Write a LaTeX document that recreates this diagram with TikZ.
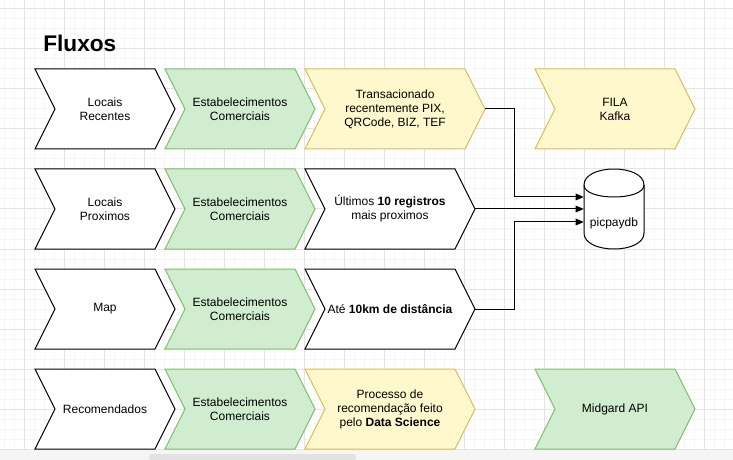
\documentclass[tikz,border=0pt]{standalone}
\usepackage{fontspec}
\setmainfont{Liberation Sans}
\usetikzlibrary{arrows.meta}

\definecolor{greenfill}{HTML}{D1EDD0}
\definecolor{greenline}{HTML}{7DBE6A}
\definecolor{yellowfill}{HTML}{FFF8CC}
\definecolor{yellowline}{HTML}{D9BE55}
\definecolor{gridminor}{HTML}{F6F6F6}
\definecolor{gridmajor}{HTML}{E4E4E4}
\definecolor{stripgray}{HTML}{F5F5F5}
\definecolor{scrollgray}{HTML}{E2E2E2}

\tikzset{
  plainbox/.style={draw=black, fill=white, line width=0.75pt},
  greenbox/.style={draw=greenline, fill=greenfill, line width=0.75pt},
  yellowbox/.style={draw=yellowline, fill=yellowfill, line width=0.75pt},
  txt/.style={align=center, inner sep=0pt, font=\fontsize{9}{10.5}\selectfont},
  conn/.style={line width=0.75pt, -{Triangle[length=6pt,width=5pt]}},
}

% style, x, y, width, name, text
\newcommand{\flowstep}[6]{%
  \draw[#1] (#2,#3) -- ++(#4-20,0) -- ++(20,40) -- ++(-20,40) -- ++(20-#4,0) -- ++(20,-40) -- cycle;
  \node[txt] (#5) at (#2+#4/2,#3+40) {#6};
  \coordinate (#5-tip) at (#2+#4,#3+40);
}

\begin{document}
\begin{tikzpicture}[x=0.75pt, y=-0.75pt]
\useasboundingbox (0,0) rectangle (733,460);
\fill[white] (0,0) rectangle (733,460);

% grid
\foreach \gx in {4.5,14.5,...,733} \draw[gridminor, line width=0.75pt] (\gx,0) -- (\gx,460);
\foreach \gy in {9,19,...,460} \draw[gridminor, line width=0.75pt] (0,\gy) -- (733,\gy);
\foreach \gx in {24.5,64.5,...,733} \draw[gridmajor, line width=0.75pt] (\gx,0) -- (\gx,460);
\foreach \gy in {9,49,...,460} \draw[gridmajor, line width=0.75pt] (0,\gy) -- (733,\gy);

\node[anchor=base west, inner sep=0pt, font=\fontsize{17}{20}\selectfont\bfseries] (title) at (43,52) {Fluxos};

% first row
\flowstep{plainbox}{35}{69}{140}{recentes}{Locais\\Recentes}
\flowstep{greenbox}{165}{69}{150}{estab1}{Estabelecimentos\\Comerciais}
\flowstep{yellowbox}{305}{69}{180}{transac}{Transacionado\\recentemente PIX,\\QRCode, BIZ, TEF}
\flowstep{yellowbox}{535}{69}{160}{fila}{FILA\\Kafka}

% second row
\flowstep{plainbox}{35}{169}{140}{proximos}{Locais\\Proximos}
\flowstep{greenbox}{165}{169}{150}{estab2}{Estabelecimentos\\Comerciais}
\flowstep{plainbox}{305}{169}{170}{ultimos}{Últimos \textbf{10 registros}\\mais proximos}

% third row
\flowstep{plainbox}{35}{269}{140}{map}{Map}
\flowstep{greenbox}{165}{269}{150}{estab3}{Estabelecimentos\\Comerciais}
\flowstep{plainbox}{305}{269}{170}{distancia}{Até \textbf{10km de distância}}

% fourth row
\flowstep{plainbox}{35}{369}{140}{recomendados}{Recomendados}
\flowstep{greenbox}{165}{369}{150}{estab4}{Estabelecimentos\\Comerciais}
\flowstep{yellowbox}{305}{369}{170}{processo}{Processo de\\recomendação feito\\pelo \textbf{Data Science}}
\flowstep{greenbox}{535}{369}{160}{midgard}{Midgard API}

% database
\draw[plainbox] (584,185) .. controls (584,163.67) and (644,163.67) .. (644,185) -- (644,233)
  .. controls (644,254.33) and (584,254.33) .. (584,233) -- cycle;
\draw[line width=0.75pt] (584,185) .. controls (584,201) and (644,201) .. (644,185);
\node[minimum width=45pt, minimum height=60pt, inner sep=0pt] (db) at (614,209) {};
\node[txt] (dblabel) at (614,223) {picpaydb};

% connectors
\draw[conn] (transac-tip) -- ++(29,0) |- ([yshift=9pt]db.west);
\draw[conn] (ultimos-tip) -- (db.west);
\draw[conn] (distancia-tip) -- ++(39,0) |- ([yshift=-9.75pt]db.west);

% bottom strip
\fill[stripgray] (0,450) rectangle (733,460);
\fill[scrollgray, rounded corners=2pt] (149,454) rectangle (356,460);
\end{tikzpicture}
\end{document}
